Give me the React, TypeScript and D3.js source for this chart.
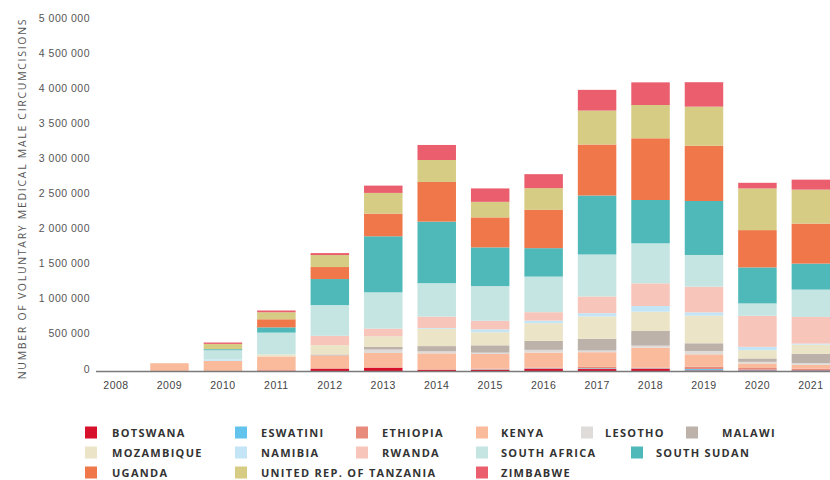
import React from "react";
import * as d3 from "d3";

const years = ["2008","2009","2010","2011","2012","2013","2014","2015","2016","2017","2018","2019","2020","2021"];

const countries = ["BOTSWANA","ESWATINI","ETHIOPIA","KENYA","LESOTHO","MALAWI","MOZAMBIQUE","NAMIBIA","RWANDA","SOUTH AFRICA","SOUTH SUDAN","UGANDA","UNITED REP. OF TANZANIA","ZIMBABWE"];

const colors = ["#d7102b","#62c3ec","#e88b7d","#f9bb9c","#dedbd8","#bdb2aa","#ece4c6","#c3e5f6","#f8c5ba","#c5e5e3","#4fb9b9","#ef774a","#d7cc84","#ea5e6e"];

const botswana     = [0, 3000, 3000, 14000, 38000, 50000, 21000, 25000, 40000, 35000, 40000, 15000, 15000, 15000];
const eswatini     = [0, 0, 0, 0, 0, 0, 0, 5000, 5000, 10000, 5000, 20000, 10000, 5000];
const ethiopia     = [0, 0, 0, 0, 10000, 10000, 10000, 10000, 10000, 20000, 10000, 33000, 25000, 20000];
const kenya        = [3000, 115000, 150000, 200000, 180000, 205000, 228000, 210000, 215000, 210000, 285000, 177000, 65000, 55000];
const lesotho      = [0, 0, 0, 0, 0, 47000, 28000, 19000, 38000, 24000, 28000, 47000, 23000, 24000];
const malawi       = [0, 0, 0, 0, 14000, 38000, 75000, 104000, 128000, 167000, 209000, 110000, 48000, 132000];
const mozambique   = [0, 0, 0, 30000, 133000, 151000, 248000, 187000, 252000, 318000, 275000, 393000, 118000, 132000];
const namibia      = [0, 0, 20000, 0, 0, 0, 10000, 40000, 37000, 47000, 81000, 48000, 47000, 15000];
const rwanda       = [0, 0, 0, 0, 133000, 110000, 162000, 123000, 120000, 238000, 323000, 365000, 442000, 379000];
const southAfrica  = [0, 0, 130000, 310000, 438000, 517000, 476000, 494000, 507000, 598000, 570000, 452000, 177000, 390000];
const southSudan   = [0, 0, 15000, 75000, 371000, 798000, 877000, 551000, 405000, 840000, 617000, 769000, 513000, 370000];
const uganda       = [0, 0, 0, 115000, 171000, 323000, 565000, 427000, 546000, 726000, 879000, 788000, 531000, 570000];
const tanzania     = [0, 0, 75000, 100000, 171000, 295000, 313000, 222000, 309000, 484000, 474000, 556000, 594000, 484000];
const zimbabwe     = [0, 0, 20000, 25000, 28000, 104000, 214000, 191000, 199000, 295000, 323000, 348000, 80000, 142000];

const seriesValues = [botswana, eswatini, ethiopia, kenya, lesotho, malawi, mozambique, namibia, rwanda, southAfrica, southSudan, uganda, tanzania, zimbabwe];

const yTicks = [0, 500000, 1000000, 1500000, 2000000, 2500000, 3000000, 3500000, 4000000, 4500000, 5000000];

// legend layout: [swatchX, textX, rowIndex]
const legendLayout: [number, number, number][] = [
  [85, 112, 0], [235, 261, 0], [356, 382, 0], [476, 501, 0], [581, 605, 0], [686, 722, 0],
  [85, 112, 1], [235, 261, 1], [356, 382, 1], [476, 501, 1], [631, 656, 1],
  [85, 112, 2], [235, 261, 2], [476, 501, 2],
];

const W = 830, H = 480;
const baseY = 371.5;

export default function App() {
  const table = years.map((y, i) => {
    const row: any = { year: y };
    countries.forEach((c, k) => { row[c] = seriesValues[k][i]; });
    return row;
  });
  const stacked = d3.stack<any>().keys(countries)(table);

  const x = d3.scaleBand<string>().domain(years).range([89.3, 837.6]).paddingInner(0.28).paddingOuter(0.14);
  const y = d3.scaleLinear().domain([0, 5000000]).range([baseY, 20.5]);

  const fmt = (v: number) => d3.format(",")(v).replace(/,/g, " ");

  return (
    <svg width={W} height={H} style={{ position: "absolute", left: 0, top: 0, background: "#fff" }}>
      <rect x={0} y={0} width={W} height={H} fill="#fff" />
      {stacked.map((s, k) => (
        <g key={countries[k]} fill={colors[k]}>
          {s.map((d, i) => {
            const h = y(d[0]) - y(d[1]);
            if (h <= 0) return null;
            return <rect key={i} x={x(years[i])} y={y(d[1])} width={x.bandwidth()} height={h} />;
          })}
        </g>
      ))}
      <line x1={96} x2={W} y1={baseY} y2={baseY} stroke="#7a7a7a" strokeWidth={1.6} />
      {yTicks.map((t) => (
        <text key={t} x={90} y={y(t) - 3} textAnchor="end" dominantBaseline="central"
          fontFamily="'Liberation Sans', Arial, sans-serif" fontSize={10.5} letterSpacing={0.5} fill="#555">
          {fmt(t)}
        </text>
      ))}
      {years.map((yr) => (
        <text key={yr} x={(x(yr) as number) + x.bandwidth() / 2} y={385} textAnchor="middle" dominantBaseline="central"
          fontFamily="'Liberation Sans', Arial, sans-serif" fontSize={10.5} letterSpacing={0.5} fill="#444">
          {yr}
        </text>
      ))}
      <text transform={`translate(22, ${(17 + 380) / 2}) rotate(-90)`} textAnchor="middle" dominantBaseline="central"
        fontFamily="'Open Sans', sans-serif" fontSize={10.5} letterSpacing={1.7} fill="#555">
        NUMBER OF VOLUNTARY MEDICAL MALE CIRCUMCISIONS
      </text>
      {countries.map((c, k) => {
        const [sx, tx, r] = legendLayout[k];
        const cy = 432.5 + r * 20;
        return (
          <g key={c}>
            <rect x={sx} y={cy - 6} width={12} height={12} fill={colors[k]} />
            <text x={tx} y={cy} dominantBaseline="central" fontFamily="'Open Sans', sans-serif" fontWeight={700}
              fontSize={11} letterSpacing={1.3} fill="#333">
              {c}
            </text>
          </g>
        );
      })}
    </svg>
  );
}
